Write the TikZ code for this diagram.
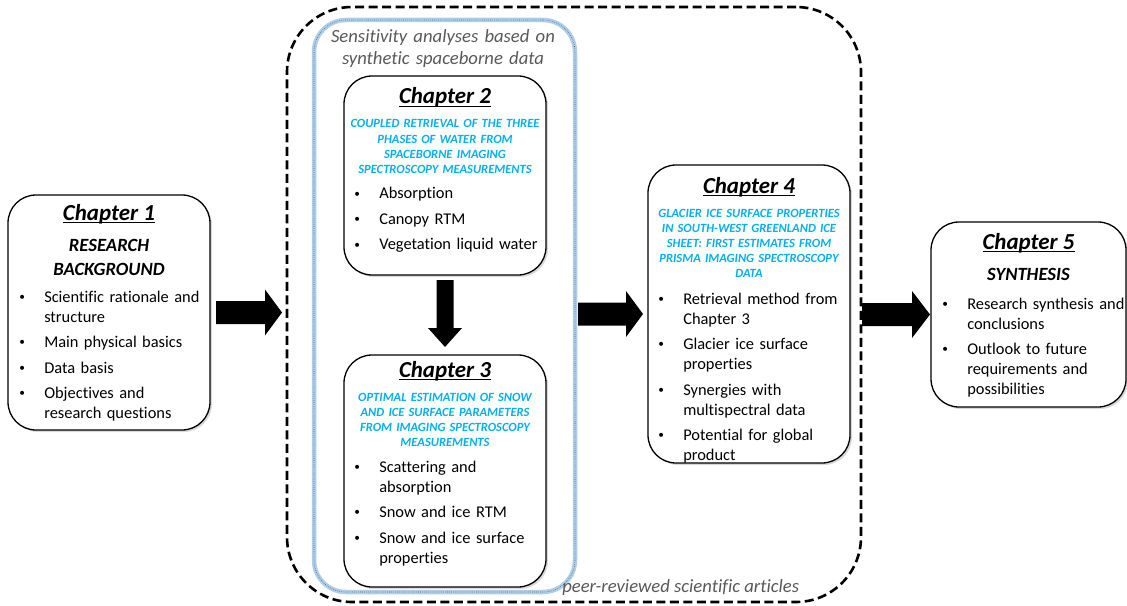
\documentclass[tikz,border=0pt]{standalone}
\usepackage{fontspec}
\setmainfont{Carlito}[Ligatures={NoCommon}]
\usetikzlibrary{fit,calc,shadows}
\newlength\pu
\setlength\pu{0.75pt}
\definecolor{hblue}{HTML}{00B0F0}
\definecolor{graytxt}{HTML}{595959}
\definecolor{glow}{HTML}{AFCDE8}
\definecolor{glowline}{HTML}{41607F}
\newcommand\chapul[1]{\setbox0\hbox{#1}\rlap{\rule[-2.4pt]{\wd0}{0.75pt}}\box0}
\newcommand\bitem[1]{\noindent\hangindent=26\pu\hangafter=1\makebox[26\pu][l]{\hspace{1.2\pu}\raisebox{1.4pt}{\fontsize{8.5pt}{8.5pt}\selectfont\textbullet}}{\let\\\newline #1}\par}
\newcommand\harrow[5]{\fill ($(#1)+(0,-#3)$) -- ($(#2)+(-#5,-#3)$) -- ($(#2)+(-#5,-#4)$) -- (#2) -- ($(#2)+(-#5,#4)$) -- ($(#2)+(-#5,#3)$) -- ($(#1)+(0,#3)$) -- cycle;}
\newcommand\varrow[5]{\fill ($(#1)+(-#3,0)$) -- ($(#2)+(-#3,-#5)$) -- ($(#2)+(-#4,-#5)$) -- (#2) -- ($(#2)+(#4,-#5)$) -- ($(#2)+(#3,-#5)$) -- ($(#1)+(#3,0)$) -- cycle;}
\tikzset{
 chbox/.style={draw=black, line width=1.3\pu, fill=white, rounded corners=28\pu, inner sep=0pt, outer sep=0pt,
   drop shadow={shadow xshift=2\pu, shadow yshift=-2\pu, opacity=0.3}},
 ttl/.style={font=\fontsize{17.2pt}{20pt}\selectfont\bfseries\itshape, inner sep=0pt, anchor=base},
 subt/.style={font=\fontsize{14pt}{18pt}\selectfont\bfseries\itshape, inner sep=0pt, anchor=base, align=center, text width=190\pu},
 bluet/.style={font=\fontsize{9.4pt}{11.4pt}\selectfont\bfseries\itshape, text=hblue, inner sep=0pt, anchor=base, align=center, text width=200\pu},
 lst/.style={font=\fontsize{12.3pt}{15pt}\selectfont\setlength\parskip{5.5\pu}, inner sep=0pt, anchor=base west, align=left, text width=220\pu},
 grayit/.style={font=\fontsize{14pt}{16.5pt}\selectfont\itshape, text=graytxt, inner sep=0pt},
}
\begin{document}
\begin{tikzpicture}[x=\pu, y=-\pu]
\useasboundingbox (0,0) rectangle (1127,606);
% frames
\node[fit={(287,7)(861,602)}, inner sep=0pt, outer sep=0pt, draw=black, line width=2.6\pu,
  dash pattern=on 9\pu off 4.5\pu, rounded corners=65\pu] (articles) {};
\node[fit={(314,20)(575,592)}, inner sep=0pt, outer sep=0pt, draw=glow, line width=4.5\pu, rounded corners=32\pu,
  postaction={draw=glowline, line width=0.6\pu, densely dotted}] (sens) {};
% chapter boxes
\node[chbox, fit={(8,195)(210,430)}] (c1) {};
\node[chbox, fit={(344,76)(546,275)}] (c2) {};
\node[chbox, fit={(344,355)(546,587)}] (c3) {};
\node[chbox, fit={(648,165)(850,463)}] (c4) {};
\node[chbox, fit={(931,222)(1126,407)}] (c5) {};
% frame labels
\node[grayit, anchor=base, align=center, text width=260\pu] (senst) at (443,43) {Sensitivity analyses based on\\synthetic spaceborne data};
\node[grayit, anchor=base west] (peert) at (562,592) {peer-reviewed scientific articles};
% chapter 1
\node[ttl] (c1t) at (109,220) {\chapul{Chapter 1}};
\node[subt] (c1s) at (109,251) {RESEARCH\\BACKGROUND};
\node[lst] (c1l) at (18,302) {\bitem{Scientific rationale and\\structure}\bitem{Main physical basics}\bitem{Data basis}\bitem{Objectives and\\research questions}};
% chapter 2
\node[ttl] (c2t) at (445,104) {\chapul{Chapter 2}};
\node[bluet] (c2b) at (445,128) {COUPLED RETRIEVAL OF THE THREE\\PHASES OF WATER FROM\\SPACEBORNE IMAGING\\SPECTROSCOPY MEASUREMENTS};
\node[lst] (c2l) at (353,199) {\bitem{Absorption}\bitem{Canopy RTM}\bitem{Vegetation liquid water}};
% chapter 3
\node[ttl] (c3t) at (445,377) {\chapul{Chapter 3}};
\node[bluet] (c3b) at (445,401) {OPTIMAL ESTIMATION OF SNOW\\AND ICE SURFACE PARAMETERS\\FROM IMAGING SPECTROSCOPY\\MEASUREMENTS};
\node[lst] (c3l) at (353,472) {\bitem{Scattering and\\absorption}\bitem{Snow and ice RTM}\bitem{Snow and ice surface\\properties}};
% chapter 4
\node[ttl] (c4t) at (749,193) {\chapul{Chapter 4}};
\node[bluet] (c4b) at (749,217) {GLACIER ICE SURFACE PROPERTIES\\IN SOUTH-WEST GREENLAND ICE\\SHEET: FIRST ESTIMATES FROM\\PRISMA IMAGING SPECTROSCOPY\\DATA};
\node[lst] (c4l) at (657,304) {\bitem{Retrieval method from\\Chapter 3}\bitem{Glacier ice surface\\properties}\bitem{Synergies with\\multispectral data}\bitem{Potential for global\\product}};
% chapter 5
\node[ttl] (c5t) at (1028.5,249) {\chapul{Chapter 5}};
\node[subt] (c5s) at (1028.5,280) {SYNTHESIS};
\node[lst] (c5l) at (941,309) {\bitem{Research synthesis and\\conclusions}\bitem{Outlook to future\\requirements and\\possibilities}};
% arrows
\coordinate (a1s) at ($(c1.east)+(6,0)$);
\coordinate (a1e) at ($(articles.west |- c1.east)+(-5,0)$);
\harrow{a1s}{a1e}{11.5}{23}{17}
\coordinate (dns) at ($(c2.south)+(0,5)$);
\coordinate (dne) at ($(c3.north)+(0,-8)$);
\varrow{dns}{dne}{8.5}{17}{19}
\coordinate (a3s) at ($(sens.east |- c4.west)+(3,0)$);
\coordinate (a3e) at ($(c4.west)+(-5,0)$);
\harrow{a3s}{a3e}{11.5}{23}{17}
\coordinate (a4s) at ($(articles.east |- c5.west)+(1,0)$);
\coordinate (a4e) at ($(c5.west)+(-1,0)$);
\harrow{a4s}{a4e}{11.5}{23.5}{18}
\end{tikzpicture}
\end{document}
